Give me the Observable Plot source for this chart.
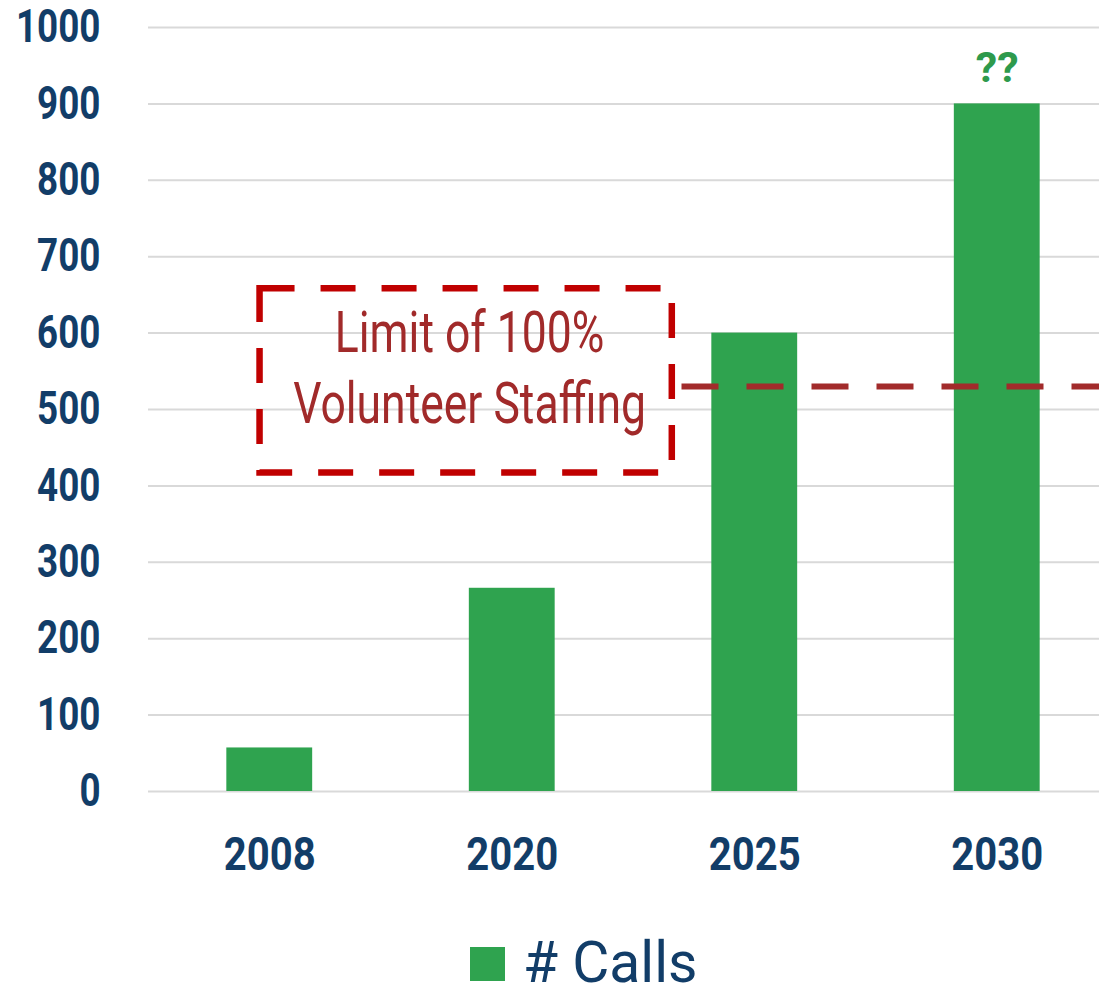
<!DOCTYPE html>
<html>
<head>
<meta charset="utf-8">
<script src="https://cdn.jsdelivr.net/npm/d3@7"></script>
<script src="https://cdn.jsdelivr.net/npm/@observablehq/plot@0.6"></script>
<style>
  html, body { margin: 0; padding: 0; background: #fff; overflow: hidden; }
  #wrap { position: relative; width: 1099px; height: 992px; }
  #legend { position: absolute; left: 470px; top: 934px; display: flex; align-items: center; line-height: 1;
    font-family: Roboto, "Liberation Sans", sans-serif; font-size: 57px; color: #123d68; }
  #legend .sw { width: 35px; height: 34px; background: #2fa34f; margin-right: 18px; margin-top: 2px; }
</style>
</head>
<body>
<div id="wrap"><div id="chart"></div>
<div id="legend"><span class="sw"></span><span>#&nbsp;Calls</span></div></div>
<script>
const years = ["2008", "2020", "2025", "2030"];
const calls = [57, 266, 600, 900];
const yTicks = [0, 100, 200, 300, 400, 500, 600, 700, 800, 900, 1000];
const limitValue = 530;
const boxLines = ["Limit of 100%", "Volunteer Staffing"];
const boxExtent = [{x1: -0.04, x2: 1.66, y1: 417, y2: 658}];
const unknownLabel = "??";

const data = years.map((year, i) => ({year, i, calls: calls[i]}));
const font = 'Roboto, "Liberation Sans", sans-serif';
const navy = "#123d68";
const labelStyle = {x: 0.824, y: 553, fill: "#a12a2a", fontSize: 57, lineAnchor: "middle", fontFamily: font};

const chart = Plot.plot({
  width: 1099,
  height: 900,
  marginLeft: 148,
  marginRight: 0,
  marginTop: 27,
  marginBottom: 109,
  style: {fontFamily: font, background: "white", overflow: "hidden"},
  x: {domain: [-0.5, 3.5], range: [148, 1118]},
  y: {domain: [0, 1000]},
  marks: [
    Plot.ruleY(yTicks, {stroke: "#d9d9d9", strokeWidth: 2}),
    Plot.rectY(data, {x1: d => d.i - 0.177, x2: d => d.i + 0.177, y1: 0, y2: "calls", fill: "#2fa34f"}),
    Plot.ruleY([limitValue], {x1: 1.70, x2: 3.6, stroke: "#a22b2b", strokeWidth: 6, strokeDasharray: "37,28"}),
    Plot.rect(boxExtent, {x1: "x1", x2: "x2", y1: "y1", y2: "y2", fill: "none", stroke: "#c00000", strokeWidth: 6.5, strokeDasharray: "35,26"}),
    Plot.text([boxLines[0]], {...labelStyle, text: d => d, dy: -35.5}),
    Plot.text([boxLines[1]], {...labelStyle, text: d => d, dy: 35.5}),
    Plot.text([data[3]], {x: "i", y: "calls", text: () => unknownLabel, fill: "#2e9a4c", fontSize: 43, fontWeight: "bold", dy: -36, lineAnchor: "middle", fontFamily: font}),
    Plot.axisY({ticks: yTicks, tickFormat: d => String(d), tickSize: 0, tickPadding: 48, fontSize: 46, fontWeight: "bold", fill: navy, label: null, fontFamily: font}),
    Plot.axisX({ticks: [0, 1, 2, 3], tickFormat: i => years[i], tickSize: 0, tickPadding: 46, fontSize: 46, fontWeight: "bold", fill: navy, label: null, fontFamily: font})
  ]
});
document.getElementById("chart").appendChild(chart);

// condense glyphs to mimic the narrow typeface of the original
function condense(nodes, factor) {
  nodes.forEach(el => {
    const len = el.getComputedTextLength();
    if (len > 0) {
      el.setAttribute("textLength", (len * factor).toFixed(1));
      el.setAttribute("lengthAdjust", "spacingAndGlyphs");
    }
  });
}
condense(chart.querySelectorAll('g[aria-label="y-axis tick label"] text'), 0.80);
condense(chart.querySelectorAll('g[aria-label="x-axis tick label"] text'), 0.87);
condense(Array.from(chart.querySelectorAll("text")).filter(t => boxLines.includes(t.textContent)), 0.78);
</script>
</body>
</html>
